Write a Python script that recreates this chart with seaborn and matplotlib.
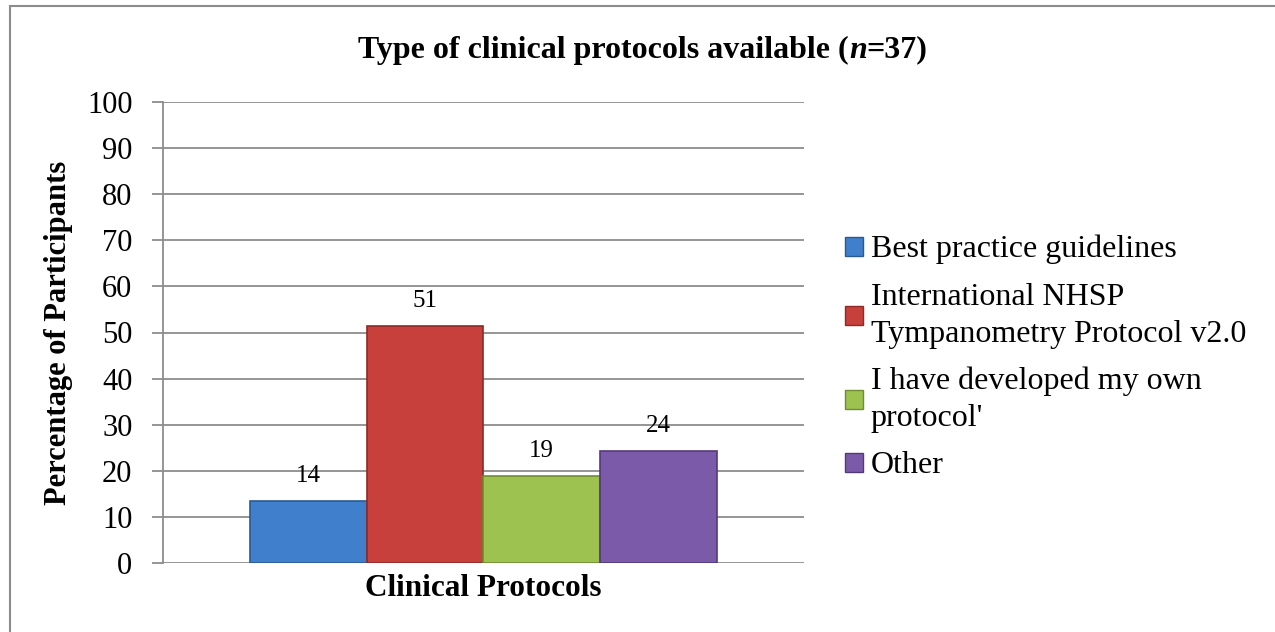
import matplotlib
matplotlib.use("Agg")
import matplotlib.pyplot as plt
import seaborn as sns
import pandas as pd
from matplotlib.patches import Rectangle

categories = ["Best practice guidelines",
              "International NHSP\nTympanometry Protocol v2.0",
              "I have developed my own\nprotocol'",
              "Other"]
values = [13.5, 51.4, 18.9, 24.3]
value_labels = ["14", "51", "19", "24"]
group = ["Clinical Protocols"] * 4
colors = ["#3F7FCB", "#C8403C", "#9DC24F", "#7C5AAA"]
edges = ["#2A5A92", "#8E2A28", "#6F8C33", "#54397A"]
yticks = list(range(0, 101, 10))
title_parts = [("Type of clinical protocols available (", "normal"),
               ("n", "italic"), ("=37)", "normal")]

sns.set_style("white")
plt.rcParams['font.family'] = ['Liberation Serif', 'DejaVu Serif']
plt.rcParams['text.color'] = 'black'
plt.rcParams['axes.labelcolor'] = 'black'
plt.rcParams['xtick.color'] = 'black'
plt.rcParams['ytick.color'] = 'black'

df = pd.DataFrame({"group": group, "protocol": categories, "value": values})

fig = plt.figure(figsize=(12.75, 6.32), dpi=100)
W, H = 1275, 632
ax = fig.add_axes([163 / W, 1 - 563 / H, (804 - 163) / W, (563 - 102) / H])

sns.barplot(data=df, x="group", y="value", hue="protocol", palette=colors,
            width=0.727, ax=ax, legend=True, saturation=1)

for bar, ec in zip(ax.patches, edges):
    bar.set_edgecolor(ec)
    bar.set_linewidth(1.2)

ax.set_ylim(0, 100)
ax.set_xlim(-0.5, 0.5)
ax.set_yticks(yticks)
ax.set_yticklabels([str(t) for t in yticks], fontsize=22)
ax.yaxis.grid(True, color="#8C8C8C", linewidth=1.3)
ax.set_axisbelow(True)
for s in ["top", "right", "bottom"]:
    ax.spines[s].set_visible(False)
ax.spines["left"].set_color("#8C8C8C")
ax.spines["left"].set_linewidth(1.3)
ax.tick_params(axis="y", length=8, color="#8C8C8C", width=1.3, pad=14, left=True,
               labelcolor="black")
ax.tick_params(axis="x", length=0, pad=8, labelcolor="black")
for lbl in ax.get_xticklabels():
    lbl.set_fontsize(22.5)
    lbl.set_fontweight("bold")
ax.set_xlabel("")
ax.set_ylabel("Percentage of Participants", fontsize=22, fontweight="bold", labelpad=10)

for i, container in enumerate(ax.containers):
    ax.bar_label(container, labels=[value_labels[i]], padding=10, fontsize=18)

# title with italic n
fig.canvas.draw()
renderer = fig.canvas.get_renderer()
texts = []
x = 0
for part, style in title_parts:
    t = fig.text(x, 1 - 50 / H, part, fontsize=23, fontweight="bold", fontstyle=style,
                 ha="left", va="center")
    texts.append(t)
    bb = t.get_window_extent(renderer)
    x += bb.width / W
total = x
start = 643 / W - total / 2
x = start
for t in texts:
    t.set_x(x)
    x += t.get_window_extent(renderer).width / W

leg = ax.legend(loc="upper left", bbox_to_anchor=(829 / W, 1 - 219 / H),
                bbox_transform=fig.transFigure, frameon=False, borderpad=0,
                fontsize=23, handlelength=0.55, handleheight=0.55, handletextpad=0.25,
                labelspacing=0.57)
for h, ec in zip(leg.legend_handles, edges):
    h.set_edgecolor(ec)
for t in leg.get_texts():
    t.set_linespacing(1.36)

fig.patches.append(Rectangle((10 / W, -0.1), 1.2, 1.1 - 6 / H, transform=fig.transFigure,
                             fill=False, edgecolor="#8C8C8C", linewidth=1.5))

fig.savefig("out.png", dpi=100)
